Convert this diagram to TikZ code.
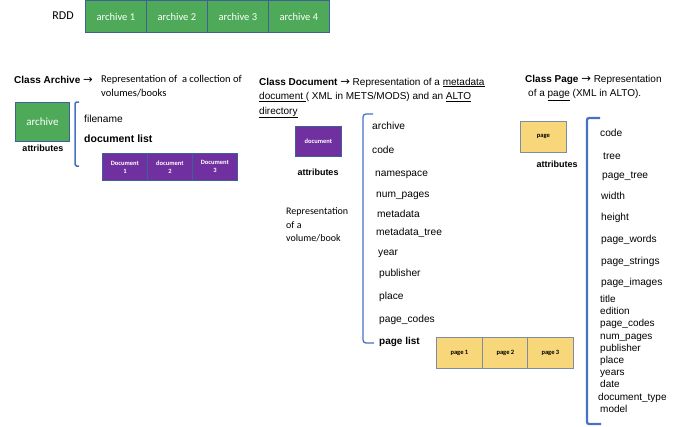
\documentclass[tikz,border=0pt]{standalone}
\usepackage{fontspec}
\setmainfont{Liberation Sans}
\newfontfamily\calibri{Carlito}
\newfontfamily\arrowfont{DejaVu Sans}
\newcommand{\rarr}{{\arrowfont\fontsize{11.5}{10}\selectfont →}}
\definecolor{rddgreen}{RGB}{78,170,88}
\definecolor{docpurple}{RGB}{112,48,160}
\definecolor{pageyellow}{RGB}{248,215,122}
\definecolor{celledge}{RGB}{62,96,150}
\definecolor{yellowedge}{RGB}{128,140,160}
\definecolor{bracketblue}{RGB}{68,114,196}
\begin{document}
\begin{tikzpicture}[x=1pt,y=-1pt,
  cellbox/.style={draw=celledge, line width=0.8pt, inner sep=0pt, anchor=north west, align=center},
  greencell/.style={cellbox, fill=rddgreen, minimum width=61pt, minimum height=32pt,
    text=white, font=\calibri\fontsize{10.5}{12}\selectfont},
  doccell/.style={cellbox, fill=docpurple, minimum width=45pt, minimum height=27pt,
    text=white, font=\calibri\bfseries\fontsize{6.5}{8}\selectfont},
  pagecell/.style={cellbox, draw=yellowedge, fill=pageyellow, minimum width=46pt, minimum height=31pt,
    text=black, font=\calibri\bfseries\fontsize{6.5}{8}\selectfont},
  heading/.style={anchor=west, inner sep=0pt, align=left, font=\fontsize{10}{14.5}\selectfont},
  note/.style={anchor=west, inner sep=0pt, align=left, font=\calibri\fontsize{10.5}{14}\selectfont},
  attr/.style={anchor=west, inner sep=0pt, text height=7.2pt, text depth=2.1pt, font=\fontsize{10.2}{12}\selectfont},
  smallattr/.style={attr, font=\fontsize{10}{11}\selectfont},
  boldattr/.style={attr, font=\bfseries\fontsize{10}{12}\selectfont},
  attrlabel/.style={anchor=center, inner sep=0pt, font=\bfseries\fontsize{9}{10}\selectfont},
  bracket/.style={draw=bracketblue, line width=1.5pt, rounded corners=1.5pt}]
\useasboundingbox (0,0) rectangle (680,426);

% ---- RDD made of archives
\node[inner sep=0pt, font=\calibri\fontsize{12}{13}\selectfont] (rdd) at (63,16) {RDD};
\node[greencell] (a1) at (85,0) {archive 1};
\node[greencell] (a2) at (146,0) {archive 2};
\node[greencell] (a3) at (207,0) {archive 3};
\node[greencell] (a4) at (268,0) {archive 4};

% ---- Class Archive
\node[heading] (archhead) at (14,80) {\textbf{Class Archive} \rarr};
\node[note] (archnote) at (101,86) {Representation of \ a collection of\\volumes/books};
\node[cellbox, fill=rddgreen, minimum width=54pt, minimum height=39pt, text=white,
  font=\calibri\fontsize{11}{12}\selectfont] (archbox) at (15,102) {archive};
\node[attrlabel] (archattr) at (43,148) {attributes};
\draw[bracket] (79,102) -- (75,102) -- (75,166) -- (79,166);
\node[attr] (filename) at (84,120) {filename};
\node[boldattr, font=\bfseries\fontsize{10.5}{12}\selectfont] (doclist) at (84,140) {document list};
\node[doccell] (d1) at (102,153) {Document\\1};
\node[doccell] (d2) at (147,153) {document\\2};
\node[doccell] (d3) at (192,153) {Document\\3};

% ---- Class Document
\node[heading] (dochead) at (259,98) {\textbf{Class Document} \rarr{} Representation of a \underline{metadata}\\
  \underline{document\ }( XML in METS/MODS) and an \underline{ALTO}\\
  \underline{directory}};
\node[cellbox, fill=docpurple, minimum width=46pt, minimum height=30pt, text=white,
  font=\calibri\bfseries\fontsize{6.5}{8}\selectfont] (docbox) at (295,126) {document};
\node[attrlabel] (docattr) at (318,172) {attributes};
\node[note, font=\calibri\fontsize{10}{13.5}\selectfont] (docnote) at (286,225) {Representation\\of a\\volume/book};
\draw[bracket, line width=1.3pt, rounded corners=3pt] (373,114) -- (363,114) -- (363,343) -- (374,343);
\node[attr] (darchive) at (372,127) {archive};
\node[attr] (dcode) at (372,151) {code};
\node[attr] (dnamespace) at (375,174) {namespace};
\node[attr] (dnumpages) at (376,195) {num\_pages};
\node[attr] (dmetadata) at (377,215) {metadata};
\node[attr] (dmetatree) at (376,233) {metadata\_tree};
\node[attr] (dyear) at (378,253) {year};
\node[attr] (dpublisher) at (379,274) {publisher};
\node[attr] (dplace) at (379,297) {place};
\node[attr] (dpagecodes) at (379,320) {page\_codes};
\node[boldattr] (pagelist) at (379,342) {page list};
\node[pagecell] (p1) at (436,337) {page 1};
\node[pagecell] (p2) at (482,337) {page 2};
\node[pagecell] (p3) at (527,337) {page 3};

% ---- Class Page
\node[heading] (pagehead) at (525,80) {\textbf{Class Page} \rarr{} Representation};
\node[heading] (pagehead2) at (528,95) {of a \underline{page} (XML in ALTO).};
\node[cellbox, draw=yellowedge, fill=pageyellow, minimum width=46pt, minimum height=31pt,
  font=\calibri\bfseries\fontsize{6.5}{8}\selectfont] (pagebox) at (520,121) {page};
\node[attrlabel] (pageattr) at (557,164) {attributes};
\draw[bracket, line width=2.2pt, rounded corners=2pt] (600,118) -- (587,118) -- (587,424) -- (601,424);
\node[attr] (pcode) at (600,134) {code};
\node[attr] (ptree) at (603,157) {tree};
\node[attr] (ppagetree) at (602,176) {page\_tree};
\node[attr] (pwidth) at (601,197) {width};
\node[attr] (pheight) at (601,218) {height};
\node[attr] (pwords) at (601,240) {page\_words};
\node[attr] (pstrings) at (601,262) {page\_strings};
\node[attr] (pimages) at (601,283) {page\_images};
\node[smallattr] (ptitle) at (600,300) {title};
\node[smallattr] (pedition) at (600,312.2) {edition};
\node[smallattr] (ppagecodes) at (600,324.4) {page\_codes};
\node[smallattr] (pnumpages) at (600,336.6) {num\_pages};
\node[smallattr] (ppublisher) at (600,348.8) {publisher};
\node[smallattr] (pplace) at (600,361) {place};
\node[smallattr] (pyears) at (600,373.2) {years};
\node[smallattr] (pdate) at (600,385.4) {date};
\node[smallattr] (pdoctype) at (598,397.6) {document\_type};
\node[smallattr] (pmodel) at (600,409.8) {model};
\end{tikzpicture}
\end{document}
